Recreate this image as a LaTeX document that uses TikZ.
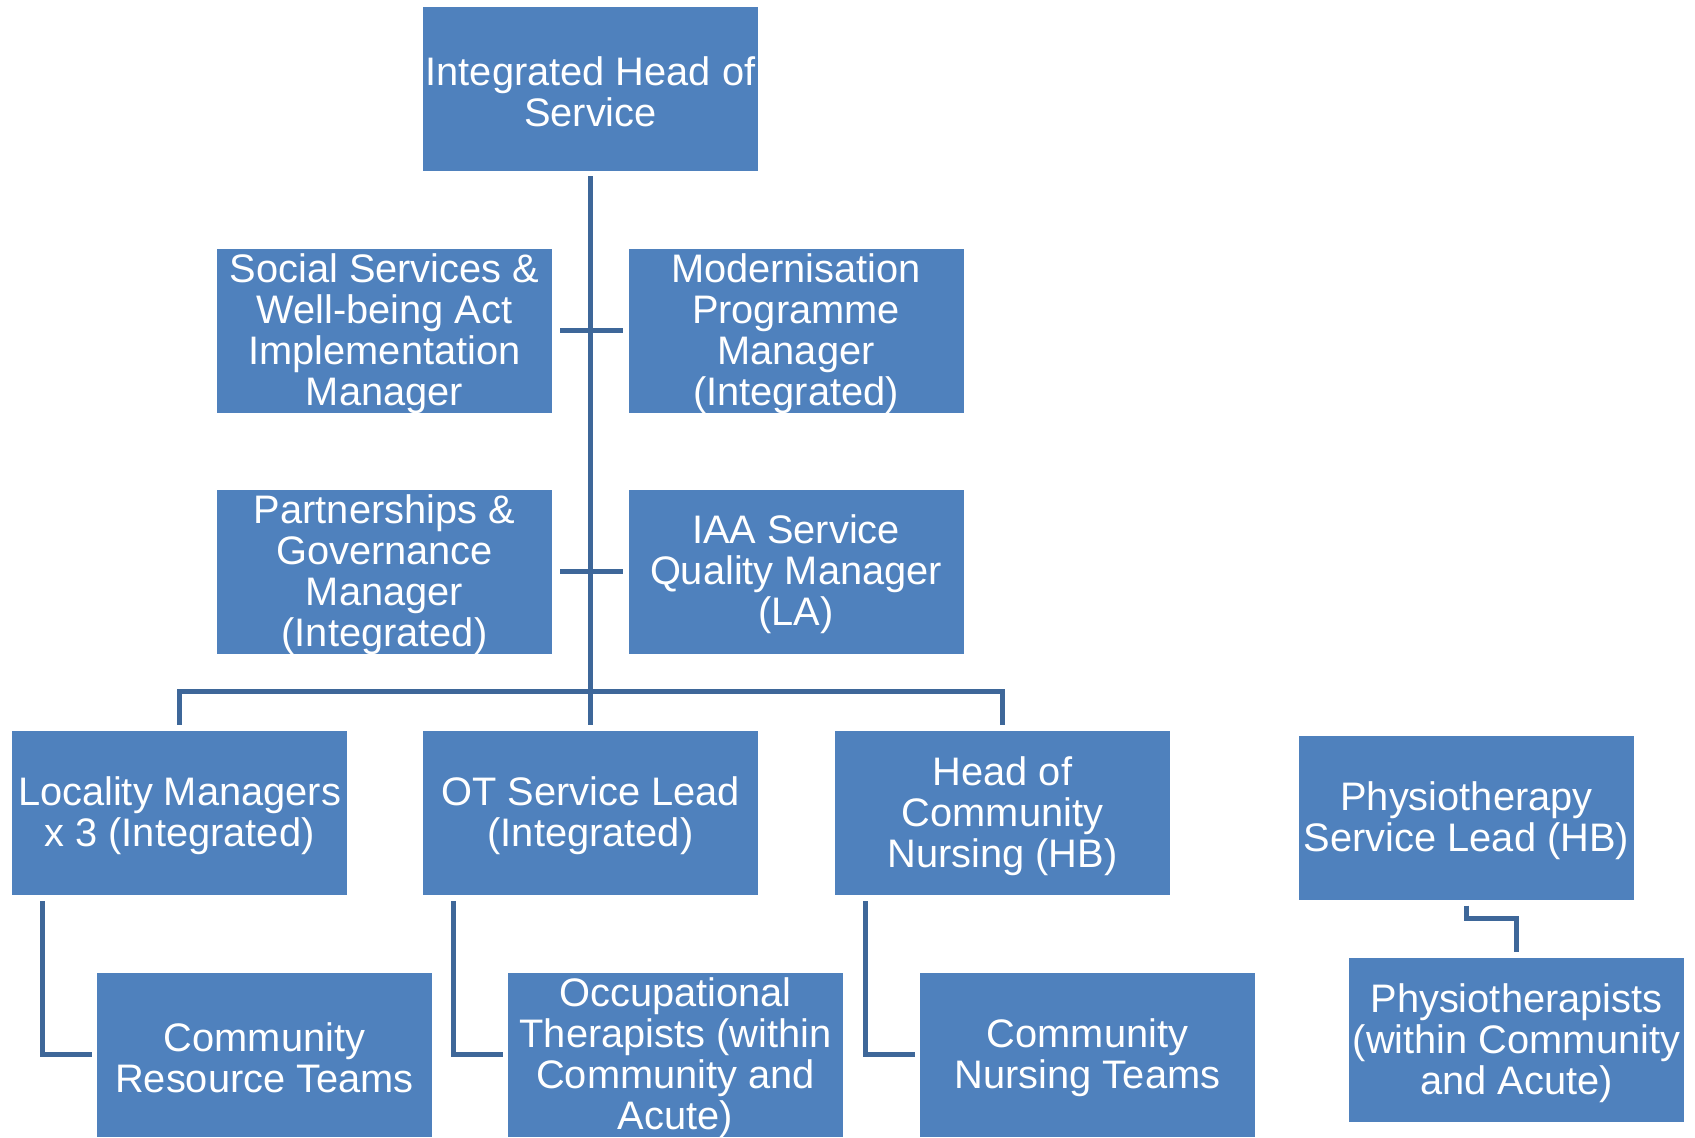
\documentclass[tikz,border=0pt]{standalone}
\usepackage{fontspec}
\setmainfont{Liberation Sans}
\definecolor{boxblue}{RGB}{79,129,189}
\definecolor{lineblue}{RGB}{62,103,153}
\begin{document}
\begin{tikzpicture}[x=1pt,y=-1pt,
  orgbox/.style={fill=boxblue, minimum width=335pt, minimum height=164pt, inner sep=0pt},
  orgtext/.style={text=white, align=center, inner sep=0pt, yshift=-3pt,
    font=\fontsize{39.8}{41}\selectfont},
  conn/.style={draw=lineblue, line width=5pt}]
\useasboundingbox (0,0) rectangle (1695,1138);
\node[orgbox, label={[orgtext]center:{Integrated Head of\\Service}}] (top) at (590.5,89) {};
\node[orgbox, label={[orgtext]center:{Social Services \&\\Well-being Act\\Implementation\\Manager}}] (social) at (384.5,330.5) {};
\node[orgbox, label={[orgtext]center:{Modernisation\\Programme\\Manager\\(Integrated)}}] (modern) at (796,330.5) {};
\node[orgbox, label={[orgtext]center:{Partnerships \&\\Governance\\Manager\\(Integrated)}}] (partner) at (384.5,571.5) {};
\node[orgbox, label={[orgtext]center:{IAA Service\\Quality Manager\\(LA)}}] (iaa) at (796,571.5) {};
\node[orgbox, label={[orgtext]center:{Locality Managers\\x 3 (Integrated)}}] (loc) at (179.5,813) {};
\node[orgbox, label={[orgtext]center:{OT Service Lead\\(Integrated)}}] (ot) at (590.5,813) {};
\node[orgbox, label={[orgtext]center:{Head of\\Community\\Nursing (HB)}}] (hcn) at (1002.5,813) {};
\node[orgbox, label={[orgtext]center:{Physiotherapy\\Service Lead (HB)}}] (plead) at (1466.5,817.5) {};
\node[orgbox, label={[orgtext]center:{Community\\Resource Teams}}] (crt) at (264.5,1054.5) {};
\node[orgbox, label={[orgtext]center:{Occupational\\Therapists (within\\Community and\\Acute)}}] (occ) at (675.5,1054.5) {};
\node[orgbox, label={[orgtext]center:{Community\\Nursing Teams}}] (cnt) at (1087.5,1054.5) {};
\node[orgbox, label={[orgtext]center:{Physiotherapists\\(within Community\\and Acute)}}] (physio) at (1516.5,1040) {};
% trunk
\draw[conn] ([yshift=-5pt]top.south) -- ([yshift=6pt]ot.north);
% crosses
\draw[conn] ([xshift=8pt]social.east) -- ([xshift=-5pt]modern.west);
\draw[conn] ([xshift=8pt]partner.east) -- ([xshift=-5pt]iaa.west);
% bus
\draw[conn] ([yshift=6pt]loc.north) -- ++(0,-33) -| ([yshift=6pt]hcn.north);
% elbows
\draw[conn] ([xshift=31pt,yshift=-6pt]loc.south west) |- ([xshift=-5pt]crt.west);
\draw[conn] ([xshift=31pt,yshift=-6pt]ot.south west) |- ([xshift=-5pt]occ.west);
\draw[conn] ([xshift=31pt,yshift=-6pt]hcn.south west) |- ([xshift=-5pt]cnt.west);
% physio
\draw[conn] ([yshift=-6pt]plead.south) -- ++(0,13) -| ([yshift=6pt]physio.north);
\end{tikzpicture}
\end{document}
